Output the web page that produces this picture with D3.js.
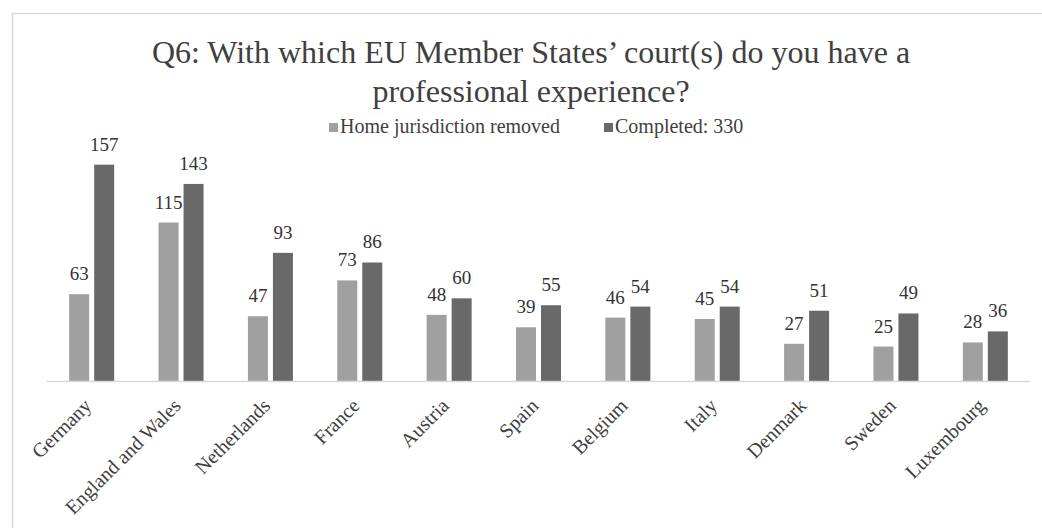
<!DOCTYPE html>
<html>
<head>
<meta charset="utf-8">
<script src="https://cdn.jsdelivr.net/npm/d3@7"></script>
<style>
  body { margin: 0; background: #fff; }
  svg text { font-family: "Liberation Serif", "Times New Roman", serif; }
</style>
</head>
<body>
<div id="chart"></div>
<script>
// Chart data
var countries = ["Germany", "England and Wales", "Netherlands", "France", "Austria", "Spain",
                 "Belgium", "Italy", "Denmark", "Sweden", "Luxembourg"];
var homeRemoved = [63, 115, 47, 73, 48, 39, 46, 45, 27, 25, 28];
var completed = [157, 143, 93, 86, 60, 55, 54, 54, 51, 49, 36];
var seriesNames = ["Home jurisdiction removed", "Completed: 330"];
var seriesColors = ["#a0a0a0", "#696969"];
var titleLines = ["Q6: With which EU Member States\u2019 court(s) do you have a", "professional experience?"];

var width = 1042, height = 528;

var svg = d3.select("#chart").append("svg")
    .attr("width", width)
    .attr("height", height);

// Chart area border (only top and left visible in the picture)
svg.append("rect")
    .attr("x", 12.5).attr("y", 13.5)
    .attr("width", 1100).attr("height", 600)
    .attr("fill", "none")
    .attr("stroke", "#d9d9d9")
    .attr("stroke-width", 1.5);

// Title
svg.append("g").selectAll("text")
    .data(titleLines)
    .enter().append("text")
    .attr("x", 531)
    .attr("y", function(d, i) { return 63 + i * 39; })
    .attr("text-anchor", "middle")
    .attr("font-size", 32)
    .attr("fill", "#404040")
    .text(function(d) { return d; });

// Legend
var legendX = [329, 604];
var legend = svg.append("g").selectAll("g")
    .data(seriesNames)
    .enter().append("g")
    .attr("transform", function(d, i) { return "translate(" + legendX[i] + ",0)"; });
legend.append("rect")
    .attr("x", 0).attr("y", 123)
    .attr("width", 9).attr("height", 9)
    .attr("fill", function(d, i) { return seriesColors[i]; });
legend.append("text")
    .attr("x", 11).attr("y", 133)
    .attr("font-size", 20)
    .attr("fill", "#404040")
    .text(function(d) { return d; });

// Scales
var x0 = d3.scaleBand()
    .domain(countries)
    .range([47, 1030])
    .paddingInner(0.4964)
    .paddingOuter(0.2482);

var x1 = d3.scaleBand()
    .domain([0, 1])
    .range([0, x0.bandwidth()])
    .paddingInner(0.2);

var y = d3.scaleLinear()
    .domain([0, 160])
    .range([381, 381 - 1.378 * 160]);

var rows = countries.map(function(c, i) {
    return { country: c, values: [homeRemoved[i], completed[i]] };
});

var groups = svg.append("g").selectAll("g")
    .data(rows)
    .enter().append("g")
    .attr("transform", function(d) { return "translate(" + x0(d.country) + ",0)"; });

groups.selectAll("rect")
    .data(function(d) { return d.values; })
    .enter().append("rect")
    .attr("x", function(d, i) { return x1(i); })
    .attr("y", function(d) { return y(d); })
    .attr("width", x1.bandwidth())
    .attr("height", function(d) { return y(0) - y(d); })
    .attr("fill", function(d, i) { return seriesColors[i]; });

groups.selectAll("text")
    .data(function(d) { return d.values; })
    .enter().append("text")
    .attr("x", function(d, i) { return x1(i) + x1.bandwidth() / 2; })
    .attr("y", function(d) { return y(d) - 14; })
    .attr("text-anchor", "middle")
    .attr("font-size", 19)
    .attr("fill", "#333")
    .text(function(d) { return d; });

// Baseline
svg.append("line")
    .attr("x1", 47).attr("x2", 1030)
    .attr("y1", y(0) + 0.5).attr("y2", y(0) + 0.5)
    .attr("stroke", "#d9d9d9")
    .attr("stroke-width", 1.5);

// Rotated category labels
svg.append("g").selectAll("text")
    .data(countries)
    .enter().append("text")
    .attr("transform", function(d) {
        return "translate(" + (x0(d) + x0.bandwidth() / 2 + 1) + ",407) rotate(-45)";
    })
    .attr("text-anchor", "end")
    .attr("font-size", 20)
    .attr("fill", "#404040")
    .text(function(d) { return d; });
</script>
</body>
</html>
